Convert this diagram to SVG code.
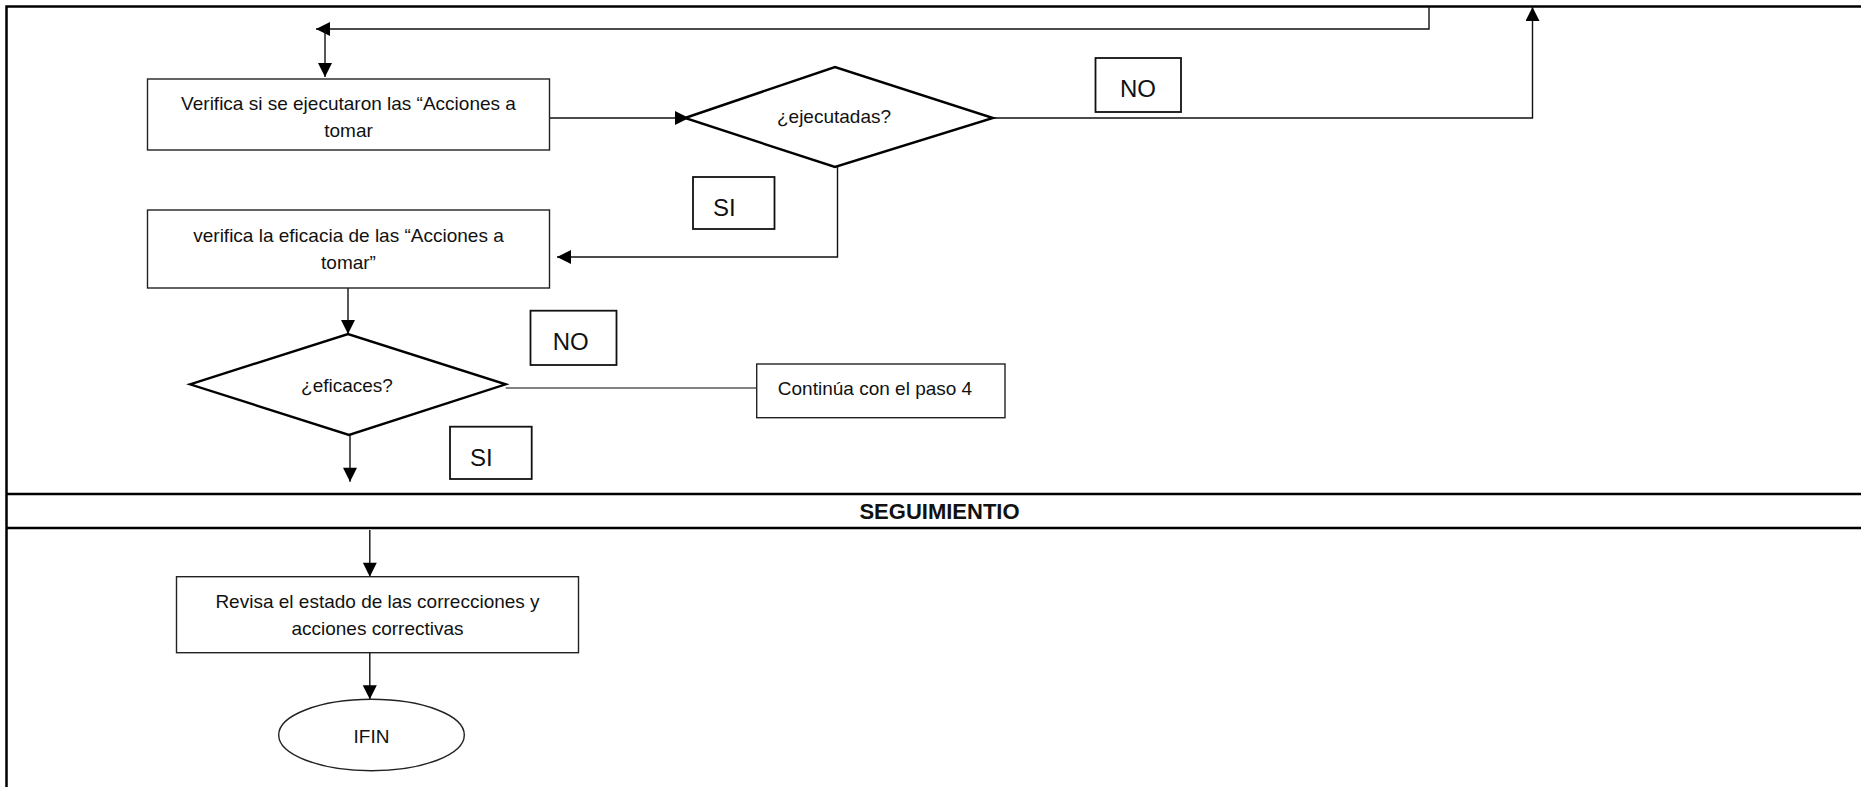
<svg xmlns="http://www.w3.org/2000/svg" width="1861" height="787" viewBox="0 0 1861 787">
<style>
  .frame{stroke:#000;stroke-width:2.5;fill:none}
  .box{fill:#fff;stroke:#222;stroke-width:1.4}
  .dia{fill:#fff;stroke:#000;stroke-width:2.4}
  .lbl{fill:#fff;stroke:#111;stroke-width:1.8}
  .conn{fill:none;stroke:#111;stroke-width:1.4}
  .conn2{fill:none;stroke:#595959;stroke-width:1.6}
  .arr{marker-end:url(#ah)}
  text{font-family:"Liberation Sans",Arial,sans-serif;font-size:19px;fill:#111}
  .c{text-anchor:middle}
  .big{font-size:24px}
  .hdr{font-weight:bold;font-size:22px;text-anchor:middle}
</style>
<defs>
  <marker id="ah" viewBox="0 0 10 10" refX="10" refY="5" markerWidth="15" markerHeight="14" markerUnits="userSpaceOnUse" orient="auto">
    <path d="M0,0 L10,5 L0,10 z" fill="#000"/>
  </marker>
</defs>
<rect width="1861" height="787" fill="#fff"/>
<g id="frame">
  <path class="frame" d="M6.5,787 V6.5 H1861"/>
  <line class="frame" x1="6.5" y1="494" x2="1861" y2="494"/>
  <line class="frame" x1="6.5" y1="528" x2="1861" y2="528"/>
  <text class="hdr" x="939.5" y="519">SEGUIMIENTIO</text>
</g>
<g id="connectors">
  <path class="conn arr" d="M1429,7 V29 H316"/>
  <path class="conn arr" d="M325,29 V77"/>
  <path class="conn arr" d="M549.6,118 H689"/>
  <path class="conn arr" d="M993,118 H1532.5 V7"/>
  <path class="conn arr" d="M837.5,167 V257 H557"/>
  <path class="conn arr" d="M348,288 V334"/>
  <path class="conn2" d="M505.7,388 H756.7"/>
  <path class="conn arr" d="M350,435 V481.7"/>
  <path class="conn arr" d="M369.8,530 V576.7"/>
  <path class="conn arr" d="M369.8,652.7 V699.3"/>
</g>
<g id="n1">
  <rect class="box" x="147.5" y="79" width="402" height="71"/>
  <text class="c" x="348.5" y="110">Verifica si se ejecutaron las “Acciones a</text>
  <text class="c" x="348.5" y="137">tomar</text>
</g>
<g id="d1">
  <polygon class="dia" points="685,118 835,67 993,118 835,167"/>
  <text class="c" x="834" y="123">¿ejecutadas?</text>
</g>
<g id="no1">
  <rect class="lbl" x="1095.5" y="58" width="85.5" height="54"/>
  <text class="c big" x="1138" y="97">NO</text>
</g>
<g id="si1">
  <rect class="lbl" x="693" y="177" width="81.5" height="52"/>
  <text class="big" x="713" y="216">SI</text>
</g>
<g id="n2">
  <rect class="box" x="147.5" y="210" width="402" height="78"/>
  <text class="c" x="348.5" y="242">verifica la eficacia de las “Acciones a</text>
  <text class="c" x="348.5" y="269">tomar”</text>
</g>
<g id="d2">
  <polygon class="dia" points="190,384.3 348,334 505.7,384.3 349,435"/>
  <text class="c" x="347" y="391.5">¿eficaces?</text>
</g>
<g id="no2">
  <rect class="lbl" x="530.5" y="310.7" width="86" height="54.3"/>
  <text class="c big" x="570.7" y="350">NO</text>
</g>
<g id="si2">
  <rect class="lbl" x="450" y="426.7" width="81.7" height="52.3"/>
  <text class="big" x="470" y="465.7">SI</text>
</g>
<g id="n4">
  <rect class="box" x="756.7" y="364" width="248.3" height="53.7"/>
  <text class="c" x="875" y="395">Continúa con el paso 4</text>
</g>
<g id="n3">
  <rect class="box" x="176.5" y="576.7" width="402" height="76"/>
  <text class="c" x="377.5" y="608.3">Revisa el estado de las correcciones y</text>
  <text class="c" x="377.5" y="635">acciones correctivas</text>
</g>
<g id="end">
  <ellipse class="box" cx="371.5" cy="735" rx="92.8" ry="35.7"/>
  <text class="c" x="371.5" y="742.5">IFIN</text>
</g>
</svg>
